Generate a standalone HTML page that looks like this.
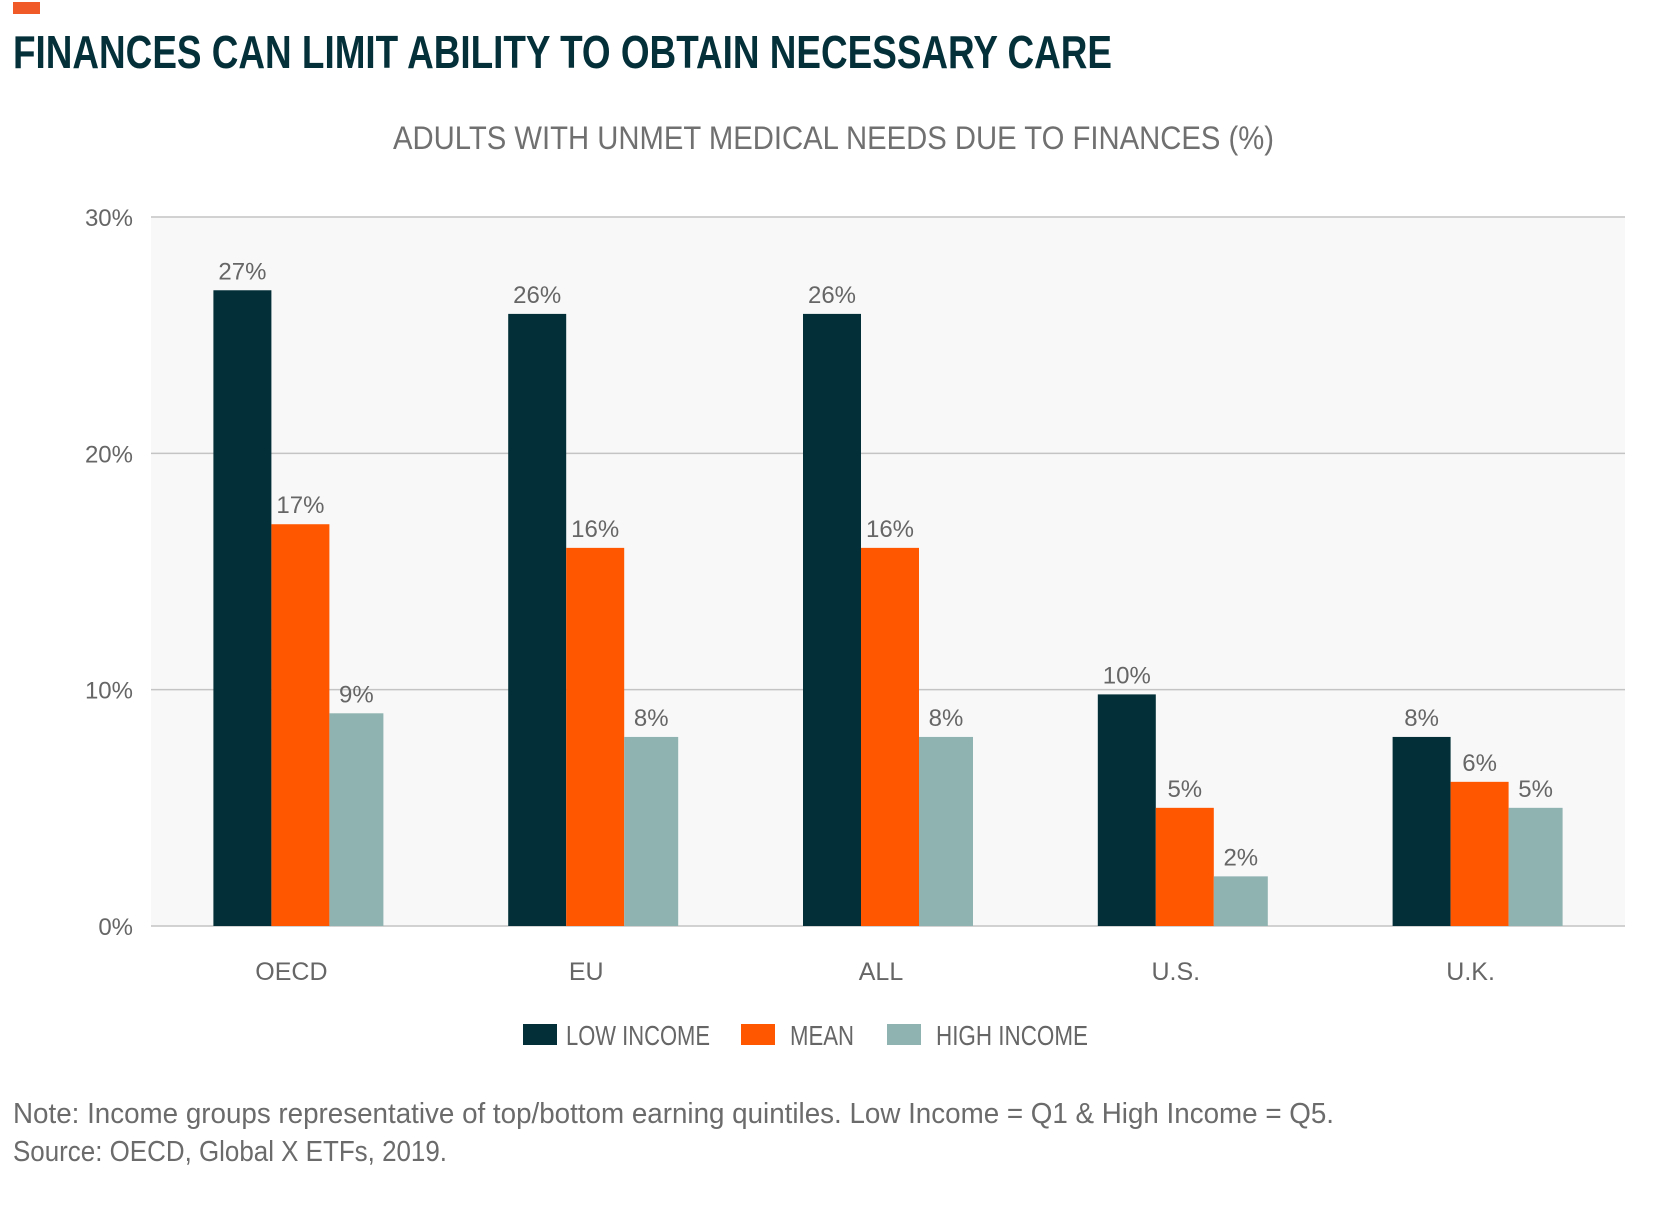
<!DOCTYPE html>
<html><head><meta charset="utf-8"><style>
html,body{margin:0;padding:0;background:#fff;}
svg{display:block;font-family:"Liberation Sans Narrow","Liberation Sans",sans-serif;}
</style></head><body>
<svg id="c" width="1667" height="1206" viewBox="0 0 1667 1206">
<rect x="13" y="2" width="27" height="12" fill="#f05a28"/>
<text x="13" y="68" font-size="46" font-weight="bold" fill="#04303a" textLength="1099" lengthAdjust="spacingAndGlyphs">FINANCES CAN LIMIT ABILITY TO OBTAIN NECESSARY CARE</text>
<text x="393" y="149" font-size="32" fill="#707070" textLength="881" lengthAdjust="spacingAndGlyphs">ADULTS WITH UNMET MEDICAL NEEDS DUE TO FINANCES (%)</text>
<rect x="151" y="217" width="1474" height="709" fill="#f8f8f8"/>
<g id="grid"></g><g id="bars"></g><g id="labels"></g>
<g>
<rect x="523" y="1024" width="34" height="21" fill="#033038"/>
<text x="566" y="1045" font-size="28" fill="#666" textLength="144" lengthAdjust="spacingAndGlyphs">LOW INCOME</text>
<rect x="741" y="1024" width="34" height="21" fill="#ff5700"/>
<text x="790" y="1045" font-size="28" fill="#666" textLength="64" lengthAdjust="spacingAndGlyphs">MEAN</text>
<rect x="887" y="1024" width="34" height="21" fill="#8fb3b1"/>
<text x="936" y="1045" font-size="28" fill="#666" textLength="152" lengthAdjust="spacingAndGlyphs">HIGH INCOME</text>
</g>
<text x="13" y="1123" font-size="29" fill="#6b6b6b" textLength="1321" lengthAdjust="spacingAndGlyphs">Note:  Income groups representative of top/bottom earning quintiles. Low Income = Q1 &amp; High Income = Q5.</text>
<text x="13" y="1161" font-size="29" fill="#6b6b6b" textLength="434" lengthAdjust="spacingAndGlyphs">Source: OECD, Global X ETFs, 2019.</text>
</svg>
<script>
const categories = ["OECD","EU","ALL","U.S.","U.K."];
const lowIncome = [26.9, 25.9, 25.9, 9.8, 8];
const meanIncome = [17, 16, 16, 5, 6.1];
const highIncome = [9, 8, 8, 2.1, 5];
const lowLabels = ["27%","26%","26%","10%","8%"];
const meanLabels = ["17%","16%","16%","5%","6%"];
const highLabels = ["9%","8%","8%","2%","5%"];
const yTicks = [0,10,20,30];
const yTickLabels = ["0%","10%","20%","30%"];

const NS="http://www.w3.org/2000/svg";
const plotL=151, plotR=1625, plotT=217, plotB=926, yMax=30;
const band=(plotR-plotL)/categories.length;
function y(v){return plotB-(v/yMax)*(plotB-plotT);}
function xc(i){return plotL+band*(i+0.5);}
function mk(tag,attrs,parent){const e=document.createElementNS(NS,tag);for(const k in attrs)e.setAttribute(k,attrs[k]);parent.appendChild(e);return e;}
const grid=document.getElementById('grid'),bars=document.getElementById('bars'),labels=document.getElementById('labels');
yTicks.forEach((t,i)=>{
  const l=mk('line',{x1:plotL,x2:plotR,y1:y(t),y2:y(t),stroke:'#c4c4c4','stroke-width':1.5},grid);
  
  
  const tx=mk('text',{x:133,y:y(t)+9,'font-size':24,fill:'#666','text-anchor':'end'},grid);
  tx.textContent=yTickLabels[i];
  
  
});
const series=[[lowIncome,lowLabels,'#033038','low'],[meanIncome,meanLabels,'#ff5700','mean'],[highIncome,highLabels,'#8fb3b1','high']];
const offs=[-85,-27,31], widths=[58,58,54];
categories.forEach((c,i)=>{
  series.forEach((s,j)=>{
    const x=xc(i)+offs[j];
    const w=widths[j];
    const r=mk('rect',{x:x,y:y(s[0][i]),width:w,height:plotB-y(s[0][i]),fill:s[2]},bars);
    
    
    const t=mk('text',{x:x+w/2,y:y(s[0][i])-11,'font-size':24,fill:'#666','text-anchor':'middle'},labels);
    t.textContent=s[1][i];
    
    
  });
  const ct=mk('text',{x:xc(i)-7,y:980,'font-size':25,fill:'#666','text-anchor':'middle'},labels);
  ct.textContent=c;
  
  
});
</script>
</body></html>
